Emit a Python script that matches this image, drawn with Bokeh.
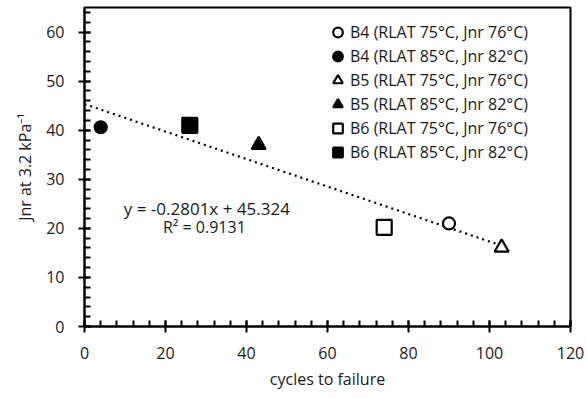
from bokeh.plotting import figure
from bokeh.models import Range1d, SingleIntervalTicker, Legend, LegendItem, Label
from bokeh.embed import file_html
from bokeh.resources import INLINE
import numpy as np

series_names = ["B4 (RLAT 75°C, Jnr 76°C)", "B4 (RLAT 85°C, Jnr 82°C)",
                "B5 (RLAT 75°C, Jnr 76°C)", "B5 (RLAT 85°C, Jnr 82°C)",
                "B6 (RLAT 75°C, Jnr 76°C)", "B6 (RLAT 85°C, Jnr 82°C)"]
cycles = [90, 4, 103, 43, 74, 26]
jnr = [21.0, 40.6, 16.1, 37.0, 20.2, 41.0]
markers = ["circle", "circle", "triangle", "triangle", "square", "square"]
filled = [False, True, False, True, False, True]
trend_slope = -0.2801
trend_intercept = 45.324
eq_text = "y = -0.2801x + 45.324"
r2_text = "R² = 0.9131"

FONT = "Open Sans"
TXT = "#1a1a1a"

p = figure(width=587, height=398, output_backend="svg", toolbar_location=None,
           x_range=Range1d(0, 120), y_range=Range1d(0, 65),
           min_border_left=84, min_border_right=17, min_border_top=7, min_border_bottom=72)
p.xgrid.visible = False
p.ygrid.visible = False
p.outline_line_color = "black"
p.outline_line_width = 2
p.background_fill_color = "white"

# trend line
tx = np.array([0, max(cycles)])
ty = trend_slope * tx + trend_intercept
p.line(tx, ty, line_color="black", line_width=2.2, line_dash="2 4")

items = []
sizes = {"circle": 12, "triangle": 14, "square": 15}
for name, x, y, m, f in zip(series_names, cycles, jnr, markers, filled):
    r = p.scatter([x], [y], marker=m, size=sizes[m],
                  fill_color="black" if f else "white",
                  line_color="black", line_width=2.2)
    items.append(LegendItem(label=name, renderers=[r]))

legend = Legend(items=items, location=(241, 162), border_line_alpha=0,
                background_fill_alpha=0, label_text_font=FONT,
                label_text_font_size="16px", spacing=0, padding=0,
                glyph_width=25, glyph_height=24, label_standoff=0,
                label_height=20, label_text_color=TXT)
p.add_layout(legend, "center")

for ax in (p.xaxis[0], p.yaxis[0]):
    ax.axis_line_width = 2
    ax.major_tick_line_width = 2
    ax.minor_tick_line_width = 2
    ax.major_tick_in = 6
    ax.major_tick_out = 6
    ax.minor_tick_in = 6
    ax.minor_tick_out = 0
    ax.major_label_text_font = FONT
    ax.major_label_text_font_size = "16px"
    ax.major_label_text_color = TXT
    ax.axis_label_text_font = FONT
    ax.axis_label_text_font_size = "16px"
    ax.axis_label_text_font_style = "normal"
    ax.axis_label_text_color = TXT

p.xaxis.ticker = SingleIntervalTicker(interval=20, num_minor_ticks=5)
p.yaxis.ticker = SingleIntervalTicker(interval=10, num_minor_ticks=5)
p.xaxis.axis_label = "cycles to failure"
p.yaxis.axis_label = "Jnr at 3.2 kPa⁻¹"
p.xaxis.major_label_standoff = 14
p.yaxis.major_label_standoff = 14
p.xaxis.axis_label_standoff = 6
p.yaxis.axis_label_standoff = 7

p.add_layout(Label(x=30.2, y=24.1, text=eq_text, text_align="center", text_baseline="middle",
                   text_font=FONT, text_font_size="17px", text_color=TXT))
p.add_layout(Label(x=29.6, y=20.2, text=r2_text, text_align="center", text_baseline="middle",
                   text_font=FONT, text_font_size="16px", text_color=TXT))

open("out.html", "w").write(file_html(p, INLINE))
